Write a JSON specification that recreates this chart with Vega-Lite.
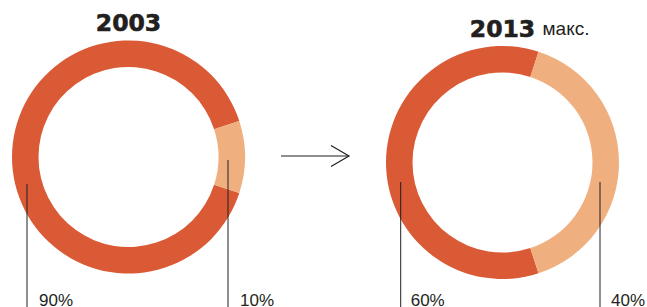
{
  "$schema": "https://vega.github.io/schema/vega-lite/v6.json",
  "width": 647,
  "height": 307,
  "autosize": {"type": "none"},
  "padding": 0,
  "background": "white",
  "config": {"view": {"stroke": null}},
  "data": {
    "values": [
      {"year": "2003", "part": "a", "share": 90, "label": "90%"},
      {"year": "2003", "part": "b", "share": 10, "label": "10%"},
      {"year": "2013", "part": "a", "share": 60, "label": "60%"},
      {"year": "2013", "part": "b", "share": 40, "label": "40%"}
    ]
  },
  "encoding": {
    "x": {"field": "year", "type": "nominal", "scale": {"type": "point", "range": [128.5, 502.5], "padding": 0}, "axis": null},
    "y": {"field": "year", "type": "nominal", "scale": {"type": "point", "range": [157, 162.5], "padding": 0}, "axis": null}
  },
  "layer": [
    {
      "transform": [{"filter": "datum.year == '2003'"}],
      "mark": {"type": "arc", "innerRadius": 90, "outerRadius": 116.5},
      "encoding": {
        "theta": {"field": "share", "type": "quantitative", "stack": true, "scale": {"domain": [0, 100], "range": [1.2566, 7.5398]}},
        "order": {"field": "share", "sort": "ascending"},
        "color": {"field": "part", "type": "nominal", "scale": {"domain": ["a", "b"], "range": ["#DA5A36", "#F0AF7E"]}, "legend": null}
      }
    },
    {
      "transform": [{"filter": "datum.year == '2013'"}],
      "mark": {"type": "arc", "innerRadius": 90, "outerRadius": 116.5},
      "encoding": {
        "theta": {"field": "share", "type": "quantitative", "stack": true, "scale": {"domain": [0, 100], "range": [0.3142, 6.5973]}},
        "order": {"field": "share", "sort": "ascending"},
        "color": {"field": "part", "type": "nominal", "scale": {"domain": ["a", "b"], "range": ["#DA5A36", "#F0AF7E"]}, "legend": null}
      }
    },
    {
      "transform": [{"filter": "datum.part == 'a'"}],
      "mark": {"type": "text", "font": "DejaVu Sans", "fontWeight": "bold", "fontSize": 23.5, "align": "center", "baseline": "alphabetic", "dy": -126, "color": "#231f20", "stroke": "#231f20", "strokeWidth": 0.6},
      "encoding": {"text": {"field": "year", "type": "nominal"}}
    },
    {
      "transform": [{"filter": "datum.part == 'a' && datum.year == '2013'"}],
      "mark": {"type": "text", "font": "Liberation Sans", "fontSize": 19, "align": "left", "baseline": "alphabetic", "dx": 40, "dy": -127.5, "color": "#231f20"},
      "encoding": {"text": {"value": "макс."}}
    },
    {
      "transform": [{"filter": "datum.part == 'a' && datum.year == '2003'"}],
      "layer": [
        {
          "mark": {"type": "rule", "xOffset": 152.5, "x2Offset": -153.5, "yOffset": -1, "color": "#231f20", "strokeWidth": 1.2},
          "encoding": {"x": {"datum": "2003"}, "x2": {"datum": "2013"}, "y": {"datum": "2003"}}
        },
        {
          "mark": {"type": "point", "shape": "M-1,-0.58L0,0L-1,0.58", "size": 1296, "filled": false, "opacity": 1, "xOffset": -153.5, "yOffset": -1, "color": "#231f20", "strokeWidth": 1.2},
          "encoding": {"x": {"datum": "2013"}, "y": {"datum": "2003"}}
        }
      ]
    },
    {
      "transform": [{"filter": "datum.label == '90%'"}],
      "layer": [
        {"mark": {"type": "rule", "xOffset": -101.5, "yOffset": 27, "color": "#231f20", "strokeWidth": 1}, "encoding": {"y2": {"value": 307}}},
        {"mark": {"type": "text", "xOffset": -101.5, "dx": 12, "align": "left", "baseline": "alphabetic", "font": "Liberation Sans", "fontSize": 17, "color": "#231f20"}, "encoding": {"y": {"value": 306}, "text": {"field": "label"}}}
      ]
    },
    {
      "transform": [{"filter": "datum.label == '10%'"}],
      "layer": [
        {"mark": {"type": "rule", "xOffset": 99.5, "yOffset": 3, "color": "#231f20", "strokeWidth": 1}, "encoding": {"y2": {"value": 307}}},
        {"mark": {"type": "text", "xOffset": 99.5, "dx": 12, "align": "left", "baseline": "alphabetic", "font": "Liberation Sans", "fontSize": 17, "color": "#231f20"}, "encoding": {"y": {"value": 306}, "text": {"field": "label"}}}
      ]
    },
    {
      "transform": [{"filter": "datum.label == '60%'"}],
      "layer": [
        {"mark": {"type": "rule", "xOffset": -101.8, "yOffset": 19.5, "color": "#231f20", "strokeWidth": 1}, "encoding": {"y2": {"value": 307}}},
        {"mark": {"type": "text", "xOffset": -101.8, "dx": 10, "align": "left", "baseline": "alphabetic", "font": "Liberation Sans", "fontSize": 17, "color": "#231f20"}, "encoding": {"y": {"value": 306}, "text": {"field": "label"}}}
      ]
    },
    {
      "transform": [{"filter": "datum.label == '40%'"}],
      "layer": [
        {"mark": {"type": "rule", "xOffset": 97.5, "yOffset": 19.5, "color": "#231f20", "strokeWidth": 1}, "encoding": {"y2": {"value": 307}}},
        {"mark": {"type": "text", "xOffset": 97.5, "dx": 11, "align": "left", "baseline": "alphabetic", "font": "Liberation Sans", "fontSize": 17, "color": "#231f20"}, "encoding": {"y": {"value": 306}, "text": {"field": "label"}}}
      ]
    }
  ],
  "resolve": {"scale": {"theta": "independent"}}
}
